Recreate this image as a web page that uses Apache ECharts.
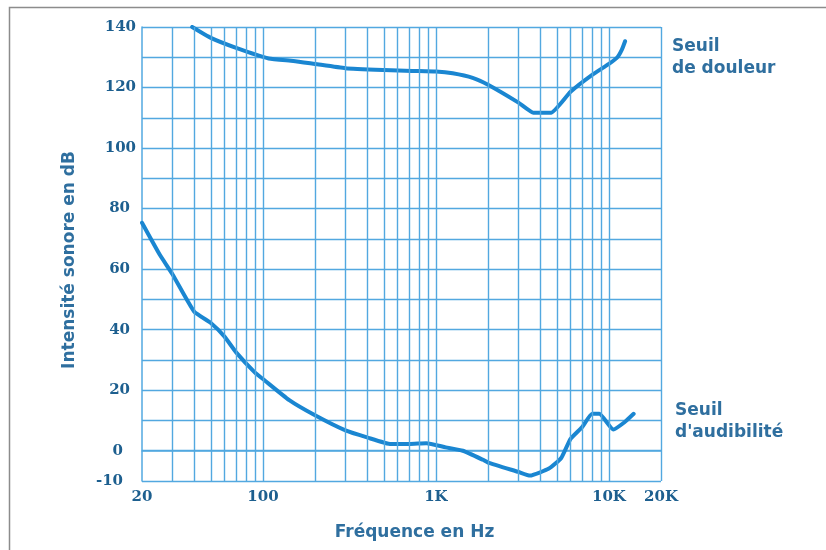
<!DOCTYPE html>
<html>
<head>
<meta charset="utf-8">
<script src="https://cdn.jsdelivr.net/npm/echarts@6/dist/echarts.min.js"></script>
<style>html,body{margin:0;padding:0;background:#fff}#c{width:826px;height:550px}</style>
</head>
<body>
<div id="c"></div>
<script>
// ---- data ----
const douleurFreq = [39, 50, 70, 108, 150, 200, 300, 500, 730, 1000, 1250, 1630, 2000, 3000, 3660, 4630, 6000, 8000, 10000, 11200, 11900, 12400];
const douleurDb   = [140, 136.4, 133.1, 129.6, 128.8, 127.8, 126.4, 125.8, 125.5, 125.3, 124.7, 123.2, 120.9, 115, 111.7, 111.7, 118.6, 124.2, 127.8, 130, 132.6, 135.3];

const audibFreq = [20, 25.3, 30, 40, 50, 60, 70, 90, 100, 142, 200, 300, 400, 550, 700, 880, 1140, 1430, 1870, 2000, 3000, 3500, 4500, 5300, 6000, 7000, 8000, 8800, 10600, 12300, 13900];
const audibDb   = [75.3, 64.8, 58.3, 46, 42.2, 37.7, 32.5, 25.8, 23.7, 16.7, 11.7, 6.7, 4.4, 2.2, 2.2, 2.5, 1.1, 0, -3, -3.9, -7, -8.2, -5.9, -2.4, 3.9, 7.8, 12.2, 12.2, 7, 9.4, 12.2];

const gridFreqs = [30,40,50,60,70,80,90,100,200,300,400,500,600,700,800,900,1000,2000,3000,4000,5000,6000,7000,8000,9000,10000,20000];
const xTickLabels = {20:'20', 100:'100', 1000:'1K', 10000:'10K', 20000:'20K'};
const yLabelValues = [-10, 0, 20, 40, 60, 80, 100, 120, 140];

const labelNames = { douleur: 'Seuil\nde douleur', audib: "Seuil\nd'audibilité" };

// ---- styles ----
const gridColor = '#52a8e0';
const curveColor = '#1a86d1';
const tickColor = '#1d5f8f';
const nameColor = '#2f6f9f';
const tickFont = {fontFamily: 'DejaVu Serif', fontWeight: 'bold', fontSize: 15, color: tickColor};

function pairs(xs, ys) { return xs.map((x, i) => [x, ys[i]]); }

const chart = echarts.init(document.getElementById('c'), null, {renderer: 'canvas'});
chart.setOption({
  backgroundColor: '#ffffff',
  animation: false,
  grid: {left: 142, right: 165, top: 27, bottom: 69, containLabel: false},
  xAxis: {
    type: 'log', logBase: 10, min: 20, max: 20000,
    name: 'Fréquence en Hz', nameLocation: 'middle', nameGap: 43,
    nameTextStyle: {fontFamily: 'DejaVu Sans', fontWeight: 'bold', fontSize: 17, color: nameColor, padding: [0, 0, 0, 26]},
    axisLine: {show: true, lineStyle: {color: gridColor, width: 1.5}},
    axisTick: {show: false},
    splitLine: {show: false},
    axisLabel: Object.assign({margin: 9, showMinLabel: true, showMaxLabel: true,
      formatter: function (v) { const k = Math.round(v); return xTickLabels[k] !== undefined ? xTickLabels[k] : ''; }}, tickFont)
  },
  yAxis: {
    type: 'value', min: -10, max: 140, interval: 10,
    name: 'Intensité sonore en dB', nameLocation: 'middle', nameGap: 64, nameRotate: 90,
    nameTextStyle: {fontFamily: 'DejaVu Sans', fontWeight: 'bold', fontSize: 17, color: nameColor, padding: [0, 12, 0, 0]},
    axisLine: {show: true, lineStyle: {color: gridColor, width: 1.5}},
    axisTick: {show: false},
    splitLine: {show: true, lineStyle: {color: gridColor, width: 1.4}},
    axisLabel: Object.assign({margin: 6,
      formatter: function (v) {
        if (yLabelValues.indexOf(v) < 0) return '';
        if (v >= 100) return '{a|' + v + '}';
        if (v >= 20) return '{b|' + v + '}';
        return '{c|' + v + '}';
      },
      rich: {
        a: Object.assign({padding: [0, 0, 0, 0]}, tickFont),
        b: Object.assign({padding: [0, 6, 0, 0]}, tickFont),
        c: Object.assign({padding: [0, 13, 0, 0]}, tickFont)
      }}, tickFont)
  },
  series: [
    {
      type: 'line', data: [], z: 1, silent: true,
      markLine: {
        silent: true, symbol: 'none', animation: false,
        label: {show: false},
        lineStyle: {color: gridColor, width: 1.4, type: 'solid'},
        data: gridFreqs.map(f => ({xAxis: f}))
      }
    },
    {
      name: 'douleur', type: 'line', z: 3, data: pairs(douleurFreq, douleurDb),
      showSymbol: false, smooth: 0.15,
      lineStyle: {color: curveColor, width: 4, cap: 'round', join: 'round'}
    },
    {
      name: 'audib', type: 'line', z: 3, data: pairs(audibFreq, audibDb),
      showSymbol: false, smooth: 0.15,
      lineStyle: {color: curveColor, width: 4, cap: 'round', join: 'round'}
    }
  ],
  graphic: [
    {type: 'rect', z: -1, silent: true, shape: {x: 9.5, y: 7.5, width: 900, height: 900},
     style: {fill: 'none', stroke: '#8c8c8c', lineWidth: 1.5}},
    {type: 'text', left: 672, top: 36, silent: true,
     style: {text: labelNames.douleur, fontFamily: 'DejaVu Sans', fontWeight: 'bold', fontSize: 17, lineHeight: 22, fill: nameColor}},
    {type: 'text', left: 675, top: 400, silent: true,
     style: {text: labelNames.audib, fontFamily: 'DejaVu Sans', fontWeight: 'bold', fontSize: 17, lineHeight: 22, fill: nameColor}}
  ]
});
</script>
</body>
</html>
